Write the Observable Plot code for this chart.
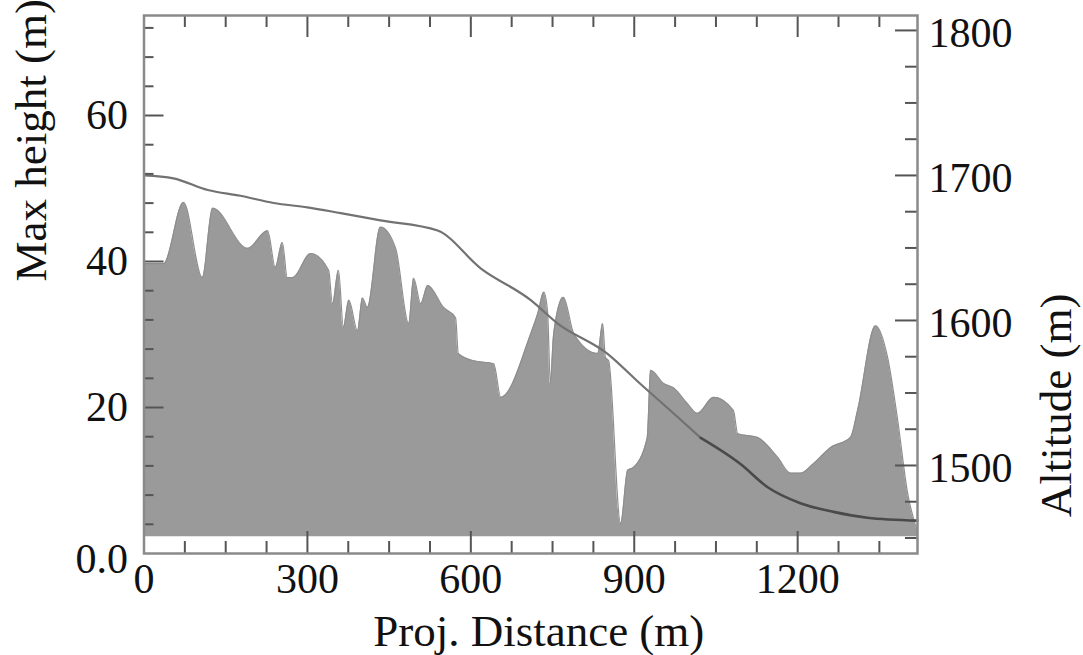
<!DOCTYPE html>
<html><head><meta charset="utf-8">
<script src="https://cdn.jsdelivr.net/npm/d3@7"></script>
<script src="https://cdn.jsdelivr.net/npm/@observablehq/plot@0.6"></script>
<style>body{margin:0;background:#fff} svg{display:block}</style>
</head><body><div id="chart"></div>
<script>
// Max height profile (m) along projected distance (m)
const heightDist = [0,36,72.5,107,126,190,227,241,254,263,273,306,339,346,357,366,376,392,401,410,434,462,486,495,508,521,550,572,577,605,642,655,710,723,734,741,746,752,770,789,833,842,847,853,875,888,899,924,930,954,972,998,1016,1046,1082,1090,1126,1163,1187,1205,1229,1260,1297,1310,1343,1365,1383,1402,1420];
const heightVals = [39.7,39.7,48.1,37.8,47.3,41.8,44.2,39.2,42.6,37.8,37.8,41.1,38.8,34.2,38.8,31,34.7,30.5,35,33.7,44.7,41.8,31.5,37.7,34.2,36.7,33.7,32.3,27.4,26.4,26,21.4,30.1,32.9,35.8,33,23.3,30,35.1,30.1,27.4,31.5,26.9,26.4,4.1,11.4,11.8,15.9,25.1,23.3,22.7,20.5,19.2,21.4,19.6,16.4,15.9,13.2,11,11,12.3,14.5,15.9,19.6,31.2,26.9,18.6,8.2,3];
const heightBase = 2.3;

// Altitude (m) along projected distance (m)
const altDist = [0,54,117,177,238,300,361,434,539,618,710,759,851,912,972,1022,1095,1145,1205,1266,1328,1420];
const altVals = [1700,1698,1690,1686,1681,1678,1674,1669,1662,1636,1614,1598,1577,1556,1536,1519,1501,1485,1474,1468,1464,1462];

// Tick labels
const xMajorTicks = [0,300,600,900,1200];
const xMinorTicks = [75,150,225,375,450,525,675,750,825,975,1050,1125,1275,1350];
const yMajorTicks = [20,40,60];
const yZeroTick = [0];
const yMinorTicks = [4,8,12,16,24,28,32,36,44,48,52,56,64,68,72];
const altMajorTicks = [1500,1600,1700,1800];
const altMinorTicks = [1450,1475,1525,1550,1575,1625,1650,1675,1725,1750,1775];

const xTitle = "Proj. Distance (m)";
const yTitle = "Max height (m)";
const altTitle = "Altitude (m)";

// scale setup
const W = 1083, H = 655;
const mL = 143.5, mR = 166, mT = 15, mB = 102;
const frameW = W - mL - mR, frameH = H - mT - mB;
const xMax = 1420, yMax = 73.7;
const altLo = 1439.3, altHi = 1810.3;
const altToY = a => (a - altLo) / (altHi - altLo) * yMax;
const yToAlt = y => altLo + y / yMax * (altHi - altLo);

const areaData = heightDist.map((x, i) => ({x, h: heightVals[i]}));
const altData = altDist.map((x, i) => ({x, y: altToY(altVals[i])}));

const tickColor = "#555";
const chart = Plot.plot({
  width: W, height: H,
  marginLeft: mL, marginRight: mR, marginTop: mT, marginBottom: mB,
  style: {fontFamily: "'Liberation Serif','Times New Roman',serif", fontSize: "42px", color: "#111", background: "#fff"},
  x: {domain: [0, xMax], axis: null},
  y: {domain: [0, yMax], axis: null},
  marks: [
    Plot.areaY(areaData, {x: "x", y1: heightBase, y2: "h", fill: "#9a9a9a", curve: "monotone-x"}),
    Plot.lineY(areaData, {x: "x", y: "h", stroke: "#8e8e8e", strokeWidth: 1.2, curve: "monotone-x"}),
    Plot.line(altData, {filter: d => d.x <= 1022, x: "x", y: "y", stroke: "#727272", strokeWidth: 2.2, curve: "monotone-x"}),
    Plot.line(altData, {filter: d => d.x >= 1022, x: "x", y: "y", stroke: "#4a4a4a", strokeWidth: 2.6, curve: "monotone-x"}),
    // bottom ticks (inward)
    Plot.tickX(xMajorTicks, {x: d => d, stroke: tickColor, strokeWidth: 2, insetTop: frameH - 22}),
    Plot.tickX(xMinorTicks, {x: d => d, stroke: tickColor, strokeWidth: 2, insetTop: frameH - 12}),
    // top ticks
    Plot.tickX(xMajorTicks, {x: d => d, stroke: tickColor, strokeWidth: 2, insetBottom: frameH - 22}),
    Plot.tickX(xMinorTicks, {x: d => d, stroke: tickColor, strokeWidth: 2, insetBottom: frameH - 12}),
    // left ticks
    Plot.tickY(yMajorTicks, {y: d => d, stroke: tickColor, strokeWidth: 2, insetRight: frameW - 20}),
    Plot.tickY(yMinorTicks, {y: d => d, stroke: tickColor, strokeWidth: 2, insetRight: frameW - 10}),
    // right ticks
    Plot.tickY(altMajorTicks, {y: d => altToY(d), stroke: tickColor, strokeWidth: 2, insetLeft: frameW - 22}),
    Plot.tickY(altMinorTicks, {y: d => altToY(d), stroke: tickColor, strokeWidth: 2, insetLeft: frameW - 12}),
    Plot.frame({stroke: "#8a8a8a", strokeWidth: 2.5}),
    Plot.axisX({anchor: "bottom", ticks: xMajorTicks, tickSize: 0, tickPadding: 10, tickFormat: d => String(d), label: null, fill: "#111"}),
    Plot.axisY({anchor: "left", ticks: yMajorTicks, tickSize: 0, tickPadding: 16, tickFormat: d => String(d), label: null, fill: "#111"}),
    Plot.axisY({anchor: "left", ticks: yZeroTick, tickSize: 0, tickPadding: 16, dy: 6, tickFormat: () => "0.0", label: null, fill: "#111"}),
    Plot.axisY({anchor: "right", ticks: altMajorTicks.map(altToY), tickSize: 0, tickPadding: 11, dy: 3, tickFormat: d => String(Math.round(yToAlt(d))), label: null, fill: "#111"}),
    Plot.text([xTitle], {text: d => d, frameAnchor: "bottom", dx: 8, dy: 92, lineAnchor: "bottom", fontSize: 45, fill: "#111"}),
    Plot.text([yTitle], {text: d => d, frameAnchor: "left", rotate: -90, dx: -112, dy: -3, lineAnchor: "middle", fontSize: 45, fill: "#111"}),
    Plot.text([altTitle], {text: d => d, frameAnchor: "right", rotate: -90, dx: 139, dy: 9, lineAnchor: "middle", fontSize: 45, fill: "#111"})
  ]
});
document.getElementById("chart").appendChild(chart);
</script>
</body></html>
